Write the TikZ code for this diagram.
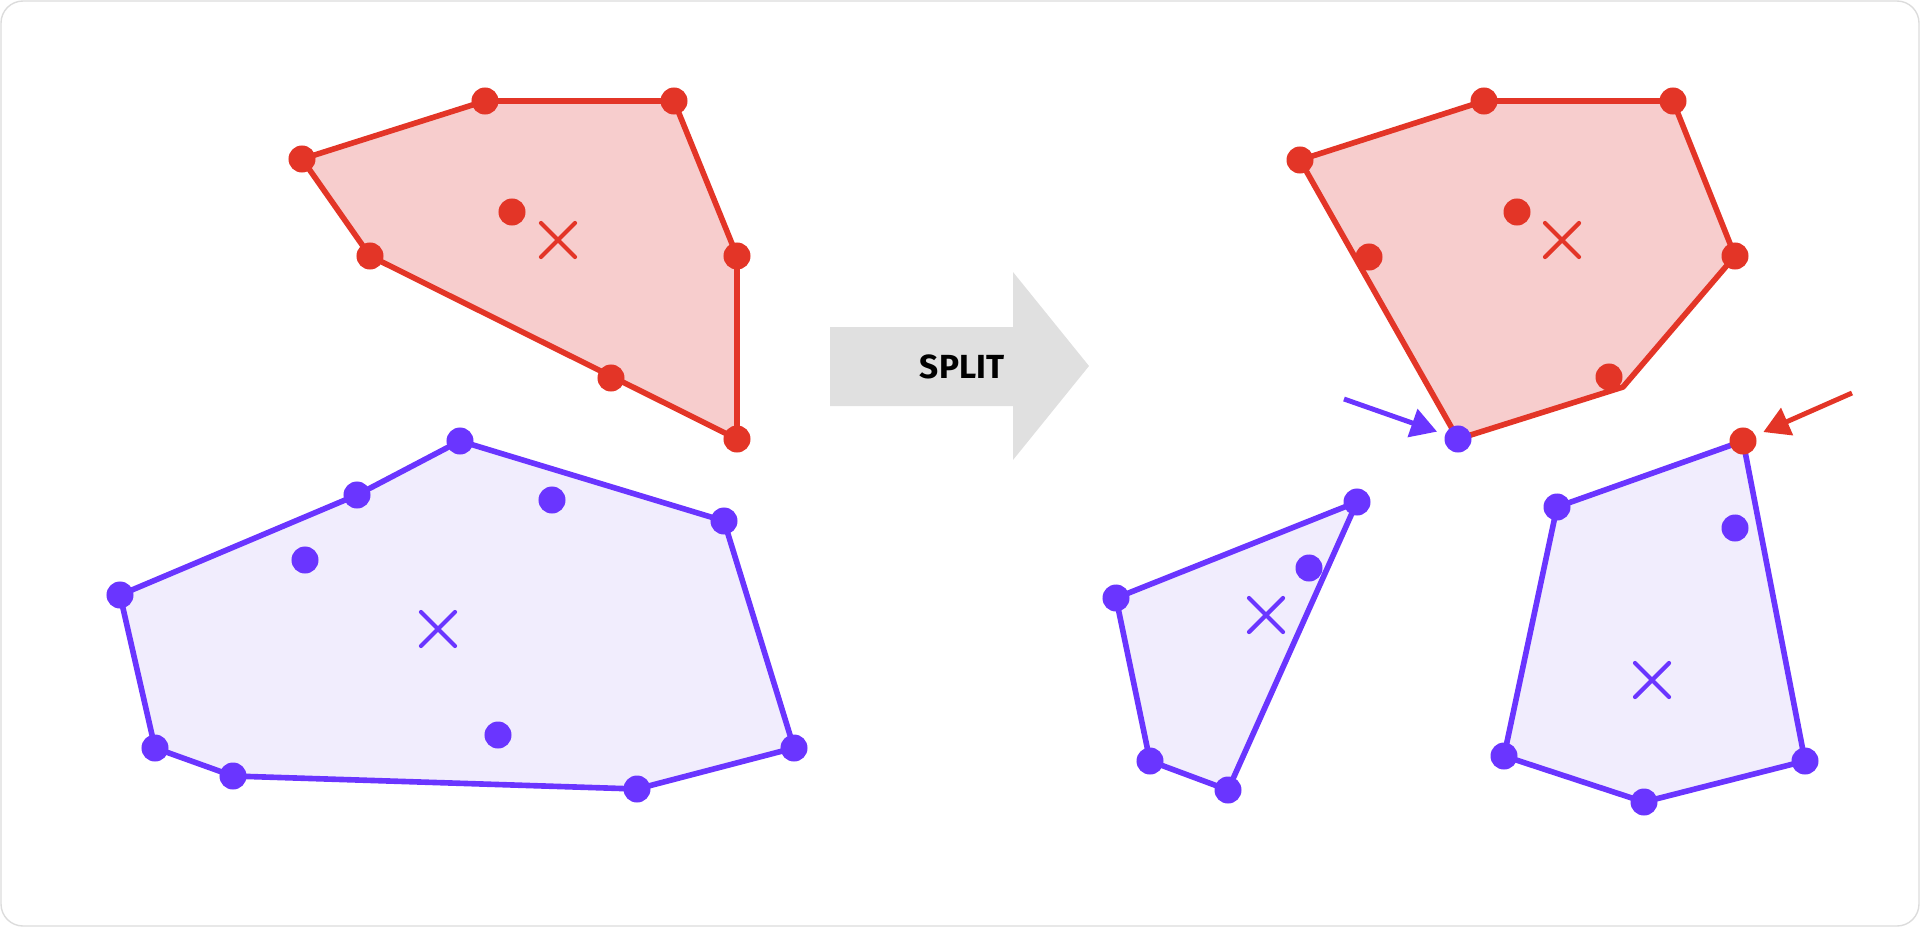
\documentclass[tikz,border=0pt]{standalone}
\usepackage{fontspec}
\newfontfamily\splitfont{Fira Sans}
\usetikzlibrary{arrows.meta}
\definecolor{hullred}{RGB}{227,53,39}
\definecolor{fillred}{RGB}{247,205,205}
\definecolor{hullblue}{RGB}{106,53,255}
\definecolor{fillblue}{RGB}{241,237,253}
\definecolor{arrowgray}{RGB}{224,224,224}
\definecolor{framegray}{RGB}{220,220,220}

\begin{document}
\begin{tikzpicture}[x=0.01cm,y=-0.01cm]
\tikzset{
  pt/.style={circle, fill=#1, inner sep=0pt, minimum size=0.27cm},
  hull/.style={draw=#1, line width=1.6pt, line join=round},
  pics/cross/.style={code={\draw[#1, line width=1.2pt, line cap=round] (-17,-17) -- (17,17) (-17,17) -- (17,-17);}},
  pointer/.style={draw=#1, line width=1.4pt, -{Triangle[length=0.26cm,width=0.29cm]}, shorten >=0.08cm}
}
\useasboundingbox (0,0) rectangle (1920,927);
\draw[framegray, line width=0.4pt, rounded corners=0.22cm] (1,1) rectangle (1919,926);

% before: red hull
\coordinate (ra) at (302,159);
\coordinate (rb) at (485,101);
\coordinate (rc) at (674,101);
\coordinate (rd) at (737,256);
\coordinate (re) at (737,439);
\coordinate (rf) at (611,378);
\coordinate (rg) at (370,256);
\coordinate (ri) at (512,212);

% before: blue hull
\coordinate (ba) at (460,441);
\coordinate (bb) at (357,495);
\coordinate (bc) at (724,521);
\coordinate (bd) at (794,748);
\coordinate (be) at (637,789);
\coordinate (bf) at (233,776);
\coordinate (bg) at (155,748);
\coordinate (bh) at (120,595);
\coordinate (bi) at (552,500);
\coordinate (bj) at (305,560);
\coordinate (bk) at (498,735);

% after: red hull
\coordinate (sa) at (1300,160);
\coordinate (sb) at (1484,101);
\coordinate (sc) at (1673,101);
\coordinate (sd) at (1735,256);
\coordinate (sk) at (1623,387);
\coordinate (se) at (1458,439);
\coordinate (sf) at (1609,377);
\coordinate (sg) at (1369,257);
\coordinate (si) at (1517,212);

% after: two blue hulls
\coordinate (ta) at (1357,502);
\coordinate (tb) at (1116,598);
\coordinate (tc) at (1150,761);
\coordinate (td) at (1228,790);
\coordinate (ti) at (1309,568);

\coordinate (ua) at (1743,441);
\coordinate (ub) at (1557,507);
\coordinate (uc) at (1504,756);
\coordinate (ud) at (1644,802);
\coordinate (ue) at (1805,761);
\coordinate (ui) at (1735,528);

\coordinate (bluetail) at (1344,399);
\coordinate (redtail) at (1852,393);

\filldraw[fill=fillred, hull=hullred] (ra) -- (rb) -- (rc) -- (rd) -- (re) -- (rg) -- cycle;
\filldraw[fill=fillblue, hull=hullblue] (ba) -- (bc) -- (bd) -- (be) -- (bf) -- (bg) -- (bh) -- (bb) -- cycle;
\filldraw[fill=fillred, hull=hullred] (sa) -- (sb) -- (sc) -- (sd) -- (sk) -- (se) -- cycle;
\filldraw[fill=fillblue, hull=hullblue] (ta) -- (tb) -- (tc) -- (td) -- cycle;
\filldraw[fill=fillblue, hull=hullblue] (ua) -- (ub) -- (uc) -- (ud) -- (ue) -- cycle;

\node[pt=hullred] (radot) at (ra) {};
\node[pt=hullred] (rbdot) at (rb) {};
\node[pt=hullred] (rcdot) at (rc) {};
\node[pt=hullred] (rddot) at (rd) {};
\node[pt=hullred] (redot) at (re) {};
\node[pt=hullred] (rfdot) at (rf) {};
\node[pt=hullred] (rgdot) at (rg) {};
\node[pt=hullred] (ridot) at (ri) {};

\node[pt=hullblue] (badot) at (ba) {};
\node[pt=hullblue] (bbdot) at (bb) {};
\node[pt=hullblue] (bcdot) at (bc) {};
\node[pt=hullblue] (bddot) at (bd) {};
\node[pt=hullblue] (bedot) at (be) {};
\node[pt=hullblue] (bfdot) at (bf) {};
\node[pt=hullblue] (bgdot) at (bg) {};
\node[pt=hullblue] (bhdot) at (bh) {};
\node[pt=hullblue] (bidot) at (bi) {};
\node[pt=hullblue] (bjdot) at (bj) {};
\node[pt=hullblue] (bkdot) at (bk) {};

\node[pt=hullred] (sadot) at (sa) {};
\node[pt=hullred] (sbdot) at (sb) {};
\node[pt=hullred] (scdot) at (sc) {};
\node[pt=hullred] (sddot) at (sd) {};
\node[pt=hullred] (sfdot) at (sf) {};
\node[pt=hullred] (sgdot) at (sg) {};
\node[pt=hullred] (sidot) at (si) {};
\node[pt=hullblue] (sedot) at (se) {};

\node[pt=hullblue] (tadot) at (ta) {};
\node[pt=hullblue] (tbdot) at (tb) {};
\node[pt=hullblue] (tcdot) at (tc) {};
\node[pt=hullblue] (tddot) at (td) {};
\node[pt=hullblue] (tidot) at (ti) {};

\node[pt=hullred] (uadot) at (ua) {};
\node[pt=hullblue] (ubdot) at (ub) {};
\node[pt=hullblue] (ucdot) at (uc) {};
\node[pt=hullblue] (uddot) at (ud) {};
\node[pt=hullblue] (uedot) at (ue) {};
\node[pt=hullblue] (uidot) at (ui) {};

% centroids
\pic at (558,240) {cross=hullred};
\pic at (438,629) {cross=hullblue};
\pic at (1562,240) {cross=hullred};
\pic at (1266,615) {cross=hullblue};
\pic at (1652,680) {cross=hullblue};

\draw[pointer=hullblue] (bluetail) -- (sedot);
\draw[pointer=hullred] (redtail) -- (uadot);

% split arrow
\fill[arrowgray] (830,327) -- (1013,327) -- (1013,272) -- (1089,366) -- (1013,460) -- (1013,406) -- (830,406) -- cycle;
\node[font=\splitfont\bfseries\fontsize{9.5}{10}\selectfont] (split) at (962,367) {SPLIT};
\end{tikzpicture}
\end{document}
